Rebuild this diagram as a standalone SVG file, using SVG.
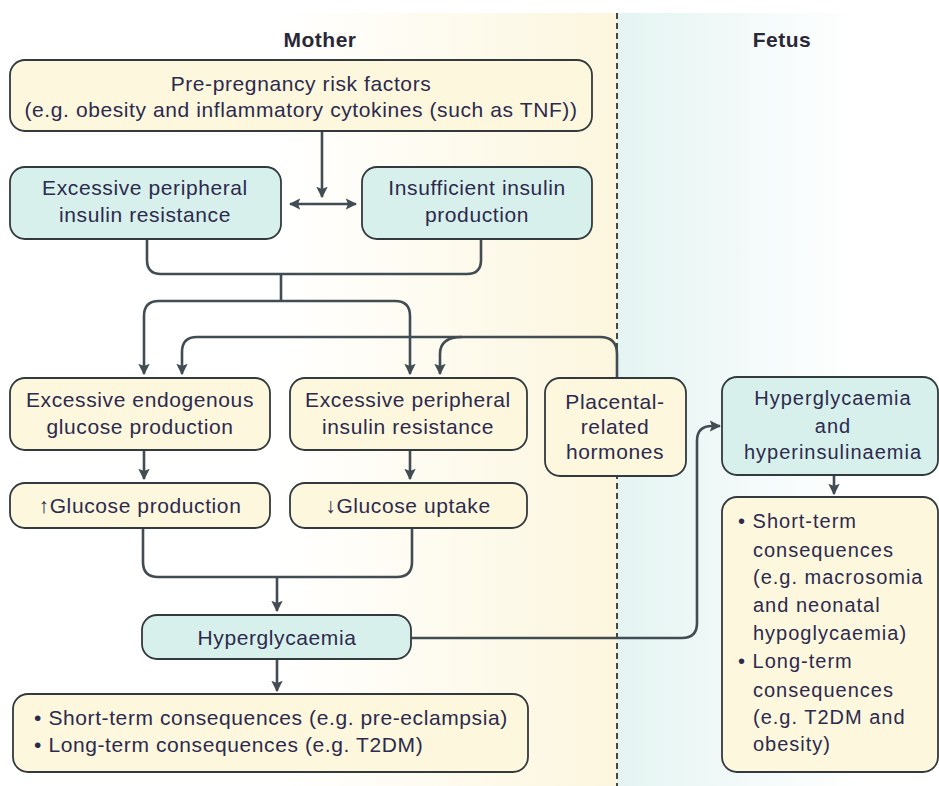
<svg xmlns="http://www.w3.org/2000/svg" width="939" height="786" viewBox="0 0 939 786">
<defs>
<linearGradient id="gMother" x1="0" y1="0" x2="1" y2="0">
<stop offset="0" stop-color="#ffffff"/>
<stop offset="0.45" stop-color="#ffffff"/>
<stop offset="1" stop-color="#fcf6de"/>
</linearGradient>
<linearGradient id="gFetus" x1="0" y1="0" x2="1" y2="0">
<stop offset="0" stop-color="#e4f4f2"/>
<stop offset="0.75" stop-color="#ffffff"/>
</linearGradient>
<marker id="ah" viewBox="0 0 10 10" refX="9" refY="5" markerWidth="4.4" markerHeight="4.4" orient="auto-start-reverse" markerUnits="strokeWidth">
<path d="M0,0 L10,5 L0,10 L2,5 Z" fill="#414d53"/>
</marker>
</defs>
<style>
.y{fill:#fdf7de;stroke:#333a3d;stroke-width:1.8}
.c{fill:#d8f0ec;stroke:#333a3d;stroke-width:1.8}
text{font-family:"Liberation Sans",Arial,sans-serif;font-size:21px;fill:#2c2a4d;letter-spacing:0.6px}
.m{text-anchor:middle}
.h{font-weight:bold;font-size:21px;fill:#2a2838;letter-spacing:0.5px}
.f{font-size:20px;letter-spacing:1px}
.conn path{fill:none;stroke:#414d53;stroke-width:2.6}
</style>
<rect x="0" y="13" width="617" height="773" fill="url(#gMother)"/>
<rect x="617" y="13" width="322" height="773" fill="url(#gFetus)"/>
<line x1="617" y1="13" x2="617" y2="786" stroke="#333" stroke-width="1.8" stroke-dasharray="6 4"/>
<text class="m h" x="320" y="47">Mother</text>
<text class="m h" x="782" y="47">Fetus</text>

<g class="conn">
<path d="M322,132 V197" marker-end="url(#ah)"/>
<path d="M290,204 H356" marker-start="url(#ah)" marker-end="url(#ah)"/>
<path d="M147,239 V260 Q147,274 161,274 H467 Q481,274 481,260 V239"/>
<path d="M281,274 V301"/>
<path d="M281,301 H159 Q144,301 144,316 V374" marker-end="url(#ah)"/>
<path d="M281,301 H395 Q410,301 410,316 V374" marker-end="url(#ah)"/>
<path d="M617,378 V354 Q617,337 600,337 H197 Q182,337 182,352 V374" marker-end="url(#ah)"/>
<path d="M462,337 Q440,337 440,354 V374" marker-end="url(#ah)"/>
<path d="M144,450 V479" marker-end="url(#ah)"/>
<path d="M410,450 V479" marker-end="url(#ah)"/>
<path d="M143,528 V562 Q143,577 158,577 H397 Q412,577 412,562 V528"/>
<path d="M277,577 V611" marker-end="url(#ah)"/>
<path d="M277,659 V691" marker-end="url(#ah)"/>
<path d="M411,638 H682 Q697,638 697,623 V441 Q697,426 712,426 H720" marker-end="url(#ah)"/>
<path d="M834,475 V494" marker-end="url(#ah)"/>
</g>

<g id="n-prepreg">
<rect class="y" x="10" y="60" width="582" height="71" rx="15"/>
<text class="m" x="301" y="91">Pre-pregnancy risk factors</text>
<text class="m" x="301" y="117">(e.g. obesity and inflammatory cytokines (such as TNF))</text>
</g>
<g id="n-resist1">
<rect class="c" x="10" y="167" width="271" height="72" rx="15"/>
<text class="m" x="145" y="195">Excessive peripheral</text>
<text class="m" x="145" y="222">insulin resistance</text>
</g>
<g id="n-insuff">
<rect class="c" x="362" y="167" width="230" height="72" rx="15"/>
<text class="m" x="477" y="195">Insufficient insulin</text>
<text class="m" x="477" y="222">production</text>
</g>
<g id="n-endog">
<rect class="y" x="10" y="378" width="260" height="72" rx="15"/>
<text class="m" x="140" y="407">Excessive endogenous</text>
<text class="m" x="140" y="434">glucose production</text>
</g>
<g id="n-resist2">
<rect class="y" x="290" y="378" width="237" height="72" rx="15"/>
<text class="m" x="408" y="407">Excessive peripheral</text>
<text class="m" x="408" y="434">insulin resistance</text>
</g>
<g id="n-placental">
<rect class="y" x="545" y="378" width="141" height="98" rx="15"/>
<text class="m" x="615" y="409">Placental-</text>
<text class="m" x="615" y="434">related</text>
<text class="m" x="615" y="459">hormones</text>
</g>
<g id="n-gprod">
<rect class="y" x="10" y="483" width="260" height="45" rx="15"/>
<text class="m" x="140" y="513">↑Glucose production</text>
</g>
<g id="n-guptake">
<rect class="y" x="290" y="483" width="237" height="45" rx="15"/>
<text class="m" x="408" y="513">↓Glucose uptake</text>
</g>
<g id="n-hyper">
<rect class="c" x="142" y="615" width="269" height="44" rx="15"/>
<text class="m" x="277" y="645">Hyperglycaemia</text>
</g>
<g id="n-mcons">
<rect class="y" x="13" y="694" width="515" height="78" rx="15"/>
<text x="34" y="725">• Short-term consequences (e.g. pre-eclampsia)</text>
<text x="34" y="752">• Long-term consequences (e.g. T2DM)</text>
</g>
<g id="n-fhyper">
<rect class="c" x="722" y="377" width="216" height="98" rx="15"/>
<text class="m f" x="833" y="405">Hyperglycaemia</text>
<text class="m f" x="833" y="433">and</text>
<text class="m f" x="833" y="459">hyperinsulinaemia</text>
</g>
<g id="n-fcons">
<rect class="y" x="722" y="497" width="216" height="275" rx="15"/>
<text class="f" x="738" y="528">• Short-term</text>
<text class="f" x="753" y="557">consequences</text>
<text class="f" x="753" y="584">(e.g. macrosomia</text>
<text class="f" x="753" y="612">and neonatal</text>
<text class="f" x="753" y="640">hypoglycaemia)</text>
<text class="f" x="738" y="668">• Long-term</text>
<text class="f" x="753" y="697">consequences</text>
<text class="f" x="753" y="724">(e.g. T2DM and</text>
<text class="f" x="753" y="751">obesity)</text>
</g>
</svg>
